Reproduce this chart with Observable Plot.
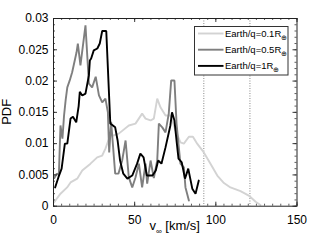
<!DOCTYPE html>
<html><head><meta charset="utf-8">
<script src="https://cdn.jsdelivr.net/npm/d3@7"></script>
<script src="https://cdn.jsdelivr.net/npm/@observablehq/plot@0.6"></script>
<style>body{margin:0;background:#fff}#chart{width:327px;height:245px}</style>
</head><body><div id="chart"></div>
<script>
// Series: Earth/q=0.1R (light gray)
const vQ01 = [0.3, 4.3, 8.4, 10.5, 14.6, 17.7, 22.8, 26.9, 30, 32, 33.1, 35.1, 37, 40.2, 46.4, 50.5, 54.6, 56.7, 59.8, 61.8, 63.9, 65.9, 69, 72.1, 75.2, 78.2, 80.3, 83.4, 85.9, 88.5, 92.6, 96.7, 100.9, 105, 109, 115.2, 120.3, 124.5, 127.5];
const pQ01 = [0.0006, 0.002, 0.003, 0.0038, 0.0044, 0.0057, 0.0068, 0.0078, 0.0081, 0.0092, 0.010, 0.0114, 0.0113, 0.0116, 0.0129, 0.0132, 0.0148, 0.014, 0.0137, 0.014, 0.0172, 0.0158, 0.0145, 0.0145, 0.0121, 0.0102, 0.010, 0.0111, 0.0111, 0.010, 0.0086, 0.0068, 0.0049, 0.0037, 0.003, 0.0024, 0.0017, 0.0007, 0.0002];
// Series: Earth/q=0.5R (gray)
const vQ05 = [0.5, 2, 3.3, 4.3, 5.5, 6.5, 7.5, 8.5, 10, 11.5, 14.2, 15, 16.6, 19.7, 21.8, 23.8, 26, 28, 30, 32, 33.5, 34.3, 35.5, 38, 40, 42.3, 44.4, 46.4, 48.5, 50.5, 52.6, 54.6, 56.7, 57.7, 59.8, 61.8, 63.9, 64.9, 67, 69, 71, 72.5, 74.5, 75.8, 77.2, 78.2, 80.3, 81.3, 83.4];
const pQ05 = [0.0045, 0.0052, 0.005, 0.0129, 0.0108, 0.0145, 0.017, 0.019, 0.0201, 0.0214, 0.0246, 0.026, 0.0225, 0.0289, 0.0196, 0.019, 0.0207, 0.0177, 0.0166, 0.0172, 0.015, 0.0086, 0.0135, 0.0052, 0.0052, 0.0073, 0.0105, 0.0046, 0.003, 0.0046, 0.0068, 0.003, 0.0068, 0.0036, 0.0073, 0.0045, 0.0073, 0.0132, 0.0126, 0.0118, 0.0148, 0.0201, 0.0201, 0.0132, 0.0094, 0.0068, 0.0062, 0.003, 0.0009];
// Series: Earth/q=1R (black)
const vQ1 = [1, 3, 5, 7, 8.5, 10.5, 12, 14, 15.5, 16.2, 17.7, 19.7, 21.8, 22.4, 23.2, 24.8, 27, 28.5, 30, 32.5, 35, 38, 39.5, 41, 43, 45.5, 48.5, 51.5, 53.5, 55.5, 57.5, 61, 63, 64.5, 66.5, 69, 72, 73, 74.5, 76, 77, 79, 81, 83, 85.5, 87.5, 89.5];
const pQ1 = [0.003, 0.0046, 0.006, 0.010, 0.010, 0.014, 0.0143, 0.0134, 0.016, 0.0183, 0.0177, 0.018, 0.0209, 0.0233, 0.0236, 0.0249, 0.0252, 0.026, 0.028, 0.028, 0.0132, 0.0126, 0.0105, 0.0073, 0.0052, 0.0044, 0.0049, 0.0068, 0.0084, 0.0078, 0.0049, 0.0049, 0.0057, 0.0073, 0.0068, 0.0094, 0.0129, 0.015, 0.0137, 0.010, 0.0076, 0.007, 0.0044, 0.006, 0.0028, 0.002, 0.0041];

const seriesNames = ["Earth/q=0.1R", "Earth/q=0.5R", "Earth/q=1R"];
const seriesColors = ["#d3d3d3", "#7f7f7f", "#000000"];
const markerLines = [92.6, 121];
const xTicks = [0, 50, 100, 150];
const yTicks = [0, 0.005, 0.01, 0.015, 0.02, 0.025, 0.03];
const xMinor = d3.range(0, 151, 5);
const yMinor = d3.range(0, 31).map(i => i / 1000);

const rows = [];
[[vQ01, pQ01], [vQ05, pQ05], [vQ1, pQ1]].forEach(([vs, ps], i) => {
  vs.forEach((v, j) => rows.push({v, p: ps[j], s: seriesNames[i]}));
});

const W = 327, H = 245, mL = 53, mR = 30.5, mT = 18, mB = 39.3;
const pw = W - mL - mR, ph = H - mT - mB;
const font = "'Liberation Sans', Arial, Helvetica, sans-serif";

const chart = Plot.plot({
  width: W, height: H,
  marginLeft: mL, marginRight: mR, marginTop: mT, marginBottom: mB,
  style: {fontFamily: font, fontSize: "12px", color: "#000", background: "#fff", overflow: "visible"},
  x: {domain: [0, 150]},
  y: {domain: [0, 0.03]},
  color: {domain: seriesNames, range: seriesColors},
  marks: [
    Plot.ruleX(markerLines, {stroke: "#888", strokeWidth: 1, strokeDasharray: "1,1.5"}),
    Plot.line(rows, {x: "v", y: "p", z: "s", stroke: "s", strokeWidth: 1.9, strokeLinejoin: "miter"}),
    // minor ticks (inward)
    Plot.ruleX(xMinor, {insetTop: ph - 2, stroke: "#333", strokeWidth: 0.8}),
    Plot.ruleX(xMinor, {insetBottom: ph - 2, stroke: "#333", strokeWidth: 0.8}),
    Plot.ruleY(yMinor, {insetRight: pw - 2, stroke: "#333", strokeWidth: 0.8}),
    Plot.ruleY(yMinor, {insetLeft: pw - 2, stroke: "#333", strokeWidth: 0.8}),
    // major ticks (inward)
    Plot.ruleX(xTicks, {insetTop: ph - 4, stroke: "#222", strokeWidth: 0.9}),
    Plot.ruleX(xTicks, {insetBottom: ph - 4, stroke: "#222", strokeWidth: 0.9}),
    Plot.ruleY(yTicks, {insetRight: pw - 4, stroke: "#222", strokeWidth: 0.9}),
    Plot.ruleY(yTicks, {insetLeft: pw - 4, stroke: "#222", strokeWidth: 0.9}),
    Plot.frame({stroke: "#222", strokeWidth: 1}),
    Plot.axisX({ticks: xTicks, tickSize: 0, tickPadding: 9, label: null, fontSize: 12, tickFormat: d => String(d)}),
    Plot.axisY({ticks: yTicks, tickSize: 0, tickPadding: 5, label: null, fontSize: 12, tickFormat: d => String(+d.toFixed(3))})
  ]
});
document.getElementById("chart").appendChild(chart);

const svg = d3.select(chart);
// axis labels
svg.append("text")
  .attr("transform", `translate(11,${mT + ph / 2}) rotate(-90)`)
  .attr("text-anchor", "middle")
  .style("font", `13px ${font}`).attr("fill", "#000").text("PDF");
const xl = svg.append("text")
  .attr("x", mL + pw / 2).attr("y", 229.5)
  .attr("text-anchor", "middle")
  .style("font", `13px ${font}`).attr("fill", "#000");
xl.append("tspan").text("v");
xl.append("tspan").attr("dy", 4).style("font-size", "8px").text("∞");
xl.append("tspan").attr("dy", -4).text(" [km/s]");

// legend
const lg = svg.append("g");
const bx = 194.5, by = 26.5, bw = 93.5, bh = 48.5;
lg.append("rect").attr("x", bx).attr("y", by).attr("width", bw).attr("height", bh)
  .attr("fill", "#fff").attr("stroke", "#333").attr("stroke-width", 1);
seriesNames.forEach((name, i) => {
  const yy = by + 7 + i * 16.2;
  lg.append("line").attr("x1", bx + 3.5).attr("x2", bx + 29).attr("y1", yy).attr("y2", yy)
    .attr("stroke", seriesColors[i]).attr("stroke-width", 1.9);
  const t = lg.append("text").attr("x", bx + 30.5).attr("y", yy + 3.5)
    .attr("text-anchor", "start")
    .style("font", `9.5px ${font}`).attr("fill", "#000");
  t.append("tspan").text(name);
  t.append("tspan").attr("dy", 3).style("font-size", "6.5px").text("⊕");
});
</script>
</body></html>
